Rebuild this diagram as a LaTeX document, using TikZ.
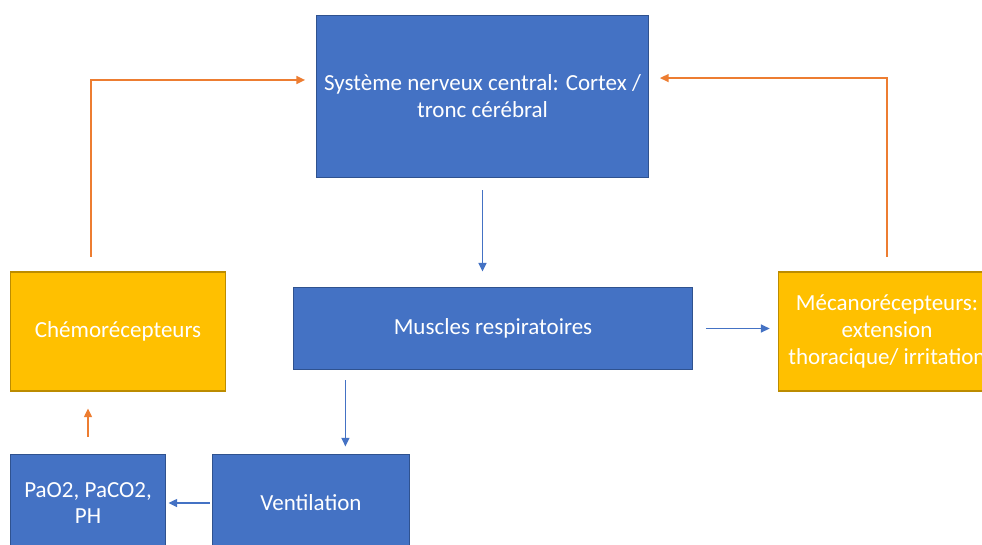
\documentclass[tikz,border=0pt]{standalone}
\usepackage{fontspec}
\setmainfont{Carlito}
\usepackage{tikz}
\usetikzlibrary{arrows.meta}

\definecolor{boxblue}{HTML}{4472C4}
\definecolor{edgeblue}{HTML}{2F528F}
\definecolor{boxgold}{HTML}{FFC000}
\definecolor{edgegold}{HTML}{BC8C00}
\definecolor{arrorange}{HTML}{ED7D31}

\begin{document}
\begin{tikzpicture}[x=0.02cm,y=-0.02cm,
  every text node part/.style={align=center},
  bluebox/.style={rectangle,draw=edgeblue,fill=boxblue,line width=0.7pt,text=white,
    font=\fontsize{13.1}{15.3}\selectfont,inner sep=0pt},
  goldbox/.style={rectangle,draw=edgegold,fill=boxgold,line width=0.9pt,text=white,
    font=\fontsize{13.1}{15.3}\selectfont,inner sep=0pt},
  bluearr/.style={draw=boxblue,line width=1pt,-{Triangle[length=5pt,width=4.5pt]}},
  orangearr/.style={draw=arrorange,line width=1pt,-{Triangle[length=5pt,width=4.5pt]}}]
  \clip (0,0) rectangle (982,544);
  \fill[white] (0,0) rectangle (982,544);
  % boxes
  \node[bluebox,minimum width=333*0.567pt,minimum height=163*0.567pt] (snc) at (482.5,96.5)
    {Système nerveux central: Cortex /\\tronc cérébral};
  \node[bluebox,minimum width=400*0.567pt,minimum height=83*0.567pt] (muscles) at (493,328.5)
    {Muscles respiratoires};
  \node[goldbox,minimum width=216*0.567pt,minimum height=119*0.567pt] (chemo) at (118,331.5)
    {Chémorécepteurs};
  \node[goldbox,minimum width=218*0.567pt,minimum height=119*0.567pt] (meca) at (887,331.5)
    {Mécanorécepteurs:\\extension\\thoracique/ irritation};
  \node[bluebox,minimum width=156*0.567pt,minimum height=98*0.567pt] (gaz) at (88,503)
    {PaO2, PaCO2,\\PH};
  \node[bluebox,minimum width=198*0.567pt,minimum height=98*0.567pt] (ventil) at (311,503)
    {Ventilation};
  % arrows
  \draw[orangearr,shorten <=8.5pt,shorten >=6.2pt] ([xshift=-15.3pt]chemo.north) |- ([yshift=9.4pt]snc.west);
  \draw[orangearr,shorten <=8.5pt,shorten >=6.2pt] (meca.north) |- ([yshift=10.5pt]snc.east);
  \draw[bluearr,shorten <=6.8pt,shorten >=8.5pt] (snc.south) -- (snc.south |- muscles.north);
  \draw[bluearr,shorten <=7.4pt,shorten >=4.5pt] (muscles.east) -- (muscles.east -| meca.west);
  \draw[bluearr,shorten <=5.7pt,shorten >=4pt] ([xshift=-84pt]muscles.south) -- ([xshift=-84pt]muscles.south |- ventil.north);
  \draw[bluearr,shorten <=1.2pt,shorten >=1.2pt] (ventil.west) -- (gaz.east);
  \draw[orangearr,shorten <=9.6pt,shorten >=9.6pt] (gaz.north) -- (gaz.north |- chemo.south);
\end{tikzpicture}
\end{document}
